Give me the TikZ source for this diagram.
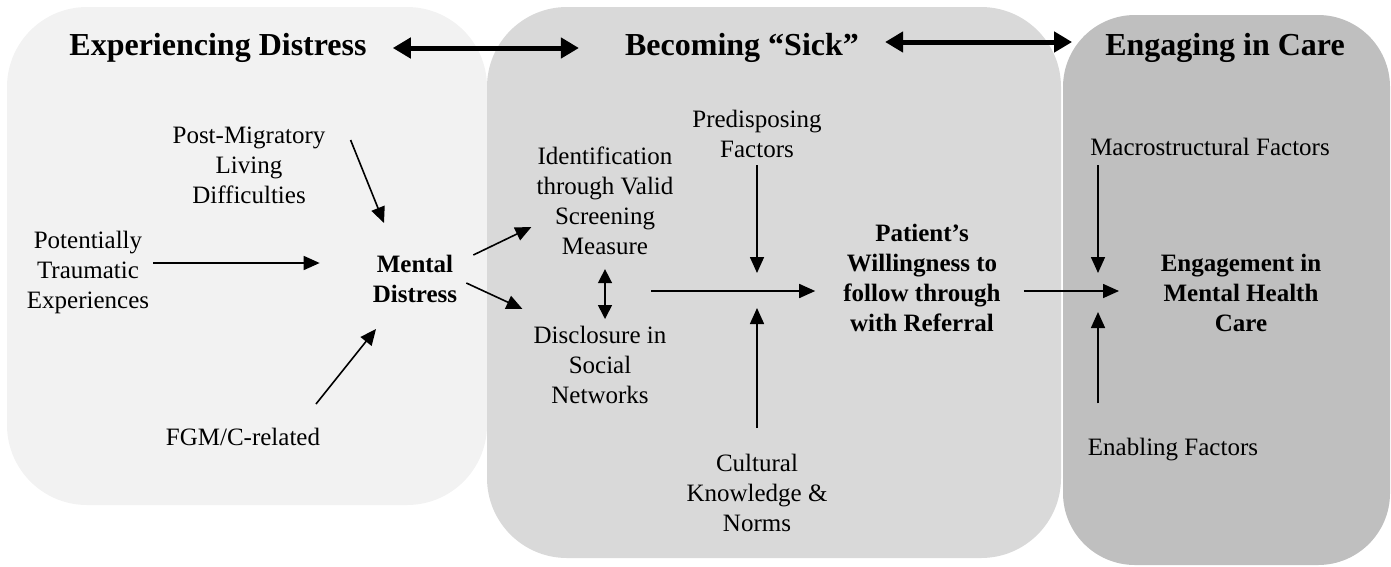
\documentclass[tikz,border=0pt]{standalone}
\usepackage{fontspec}
\setmainfont{Liberation Serif}
\usetikzlibrary{arrows.meta}
\definecolor{panelA}{RGB}{242,242,242}
\definecolor{panelB}{RGB}{217,217,217}
\definecolor{panelC}{RGB}{191,191,191}
\tikzset{
  txt/.style={inner sep=1pt, align=center, font=\fontsize{25}{30}\selectfont},
  boldtxt/.style={txt, font=\fontsize{25}{30}\selectfont\bfseries},
  headtxt/.style={inner sep=1pt, font=\fontsize{32}{36}\selectfont\bfseries},
  arr/.style={line width=1.6pt, -{Triangle[length=16pt,width=14pt]}},
  darr/.style={line width=1.6pt, {Triangle[length=14pt,width=14pt]}-{Triangle[length=14pt,width=14pt]}},
  harr/.style={line width=5pt, {Triangle[length=18pt,width=20pt]}-{Triangle[length=18pt,width=20pt]}}
}
\begin{document}
\begin{tikzpicture}[x=1pt,y=1pt,yscale=-1,xscale=1]
    \useasboundingbox (0,0) rectangle (1391,566);

    %Shape: Rounded Rect [id:panelA]
    \fill [panelA, rounded corners=80] (7,7) rectangle (487,505);
    %Shape: Rounded Rect [id:panelB]
    \fill [panelB, rounded corners=80] (487,7) rectangle (1061,558);
    %Shape: Rounded Rect [id:panelC]
    \fill [panelC, rounded corners=72] (1063,15) rectangle (1390,565);

    % Heading Nodes
    \node [headtxt] (hdist) at (218,48) {Experiencing Distress};
    \node [headtxt] (hsick) at (742,48) {Becoming “Sick”};
    \node [headtxt] (hcare) at (1225,48) {Engaging in Care};

    % Text Node
    \node [txt] (postmig) at (249,165) {Post-Migratory\\Living\\Difficulties};
    % Text Node
    \node [txt] (ptrauma) at (88,272) {Potentially\\Traumatic\\Experiences};
    % Text Node
    \node [boldtxt] (mental) at (415,279) {Mental\\Distress};
    % Text Node
    \node [txt] (fgm) at (243,437) {FGM/C-related};
    % Text Node
    \node [txt] (ident) at (605,201) {Identification\\through Valid\\Screening\\Measure};
    % Text Node
    \node [txt] (discl) at (600,365) {Disclosure in\\Social\\Networks};
    % Text Node
    \node [txt] (predis) at (757,134) {Predisposing\\Factors};
    % Text Node
    \node [txt] (cult) at (757,493) {Cultural\\Knowledge \&\\Norms};
    % Text Node
    \node [boldtxt] (patient) at (922,278) {Patient’s\\Willingness to\\follow through\\with Referral};
    % Text Node
    \node [txt] (macro) at (1210,147) {Macrostructural Factors};
    % Text Node
    \node [boldtxt] (engage) at (1241,293) {Engagement in\\Mental Health\\Care};
    % Text Node
    \node [txt] (enab) at (1173,450) {Enabling Factors};

    % join points
    \coordinate (split) at (651,291);
    \coordinate (refjoin) at (757,291);
    \coordinate (carejoin) at (1098,291);

    % heading arrows
    \draw [harr] ([xshift=25]hdist.east) -- ([xshift=-45]hsick.west);
    \draw [harr] ([shift={(25,-6)}]hsick.east) -- ([shift={(-32,-6)}]hcare.west);

    % stage 1
    \draw [arr] ([shift={(24,-25)}]postmig.east) -- ([shift={(-31,-31)}]mental.north);
    \draw [arr] ([shift={(3,-9)}]ptrauma.east) -- ([shift={(-52,-16)}]mental.west);
    \draw [arr] ([shift={(73,-23)}]fgm.north) -- ([shift={(-39,25)}]mental.south);

    % stage 2
    \draw [arr] ([shift={(15,-24)}]mental.east) -- ([shift={(-4,26)}]ident.west);
    \draw [arr] ([shift={(8,4)}]mental.east) -- ([shift={(-10,-56)}]discl.west);
    \draw [darr] ([yshift=13]ident.south) -- ([yshift=-6]ident.south |- discl.north);
    \draw [arr] (split) -- ([xshift=-27]patient.west |- split);
    \draw [arr] ([yshift=6]predis.south) -- ([yshift=-18]refjoin);
    \draw [arr] ([yshift=-25]cult.north) -- ([yshift=17]refjoin);

    % stage 3
    \draw [arr] ([xshift=22]patient.east |- carejoin) -- ([xshift=21]carejoin);
    \draw [arr] ([yshift=8]carejoin |- macro.south) -- ([yshift=-18]carejoin);
    \draw [arr] ([yshift=-34]carejoin |- enab.north) -- ([yshift=21]carejoin);

\end{tikzpicture}
\end{document}
